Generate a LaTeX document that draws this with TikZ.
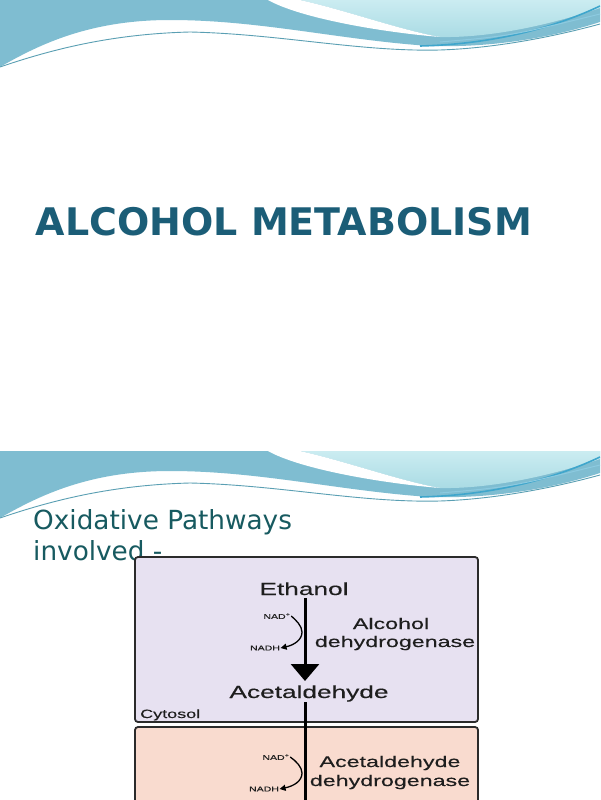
\documentclass[tikz,border=0pt]{standalone}
\usepackage{fontspec}
\usetikzlibrary{arrows.meta}
\newfontfamily\titlefont{DejaVu Sans}
\newfontfamily\diagfont[FakeStretch=1.5,FakeBold=0.3]{Liberation Sans}
\definecolor{bandblue}{HTML}{7FBDD1}
\definecolor{lightcyan}{HTML}{A9DBE4}
\definecolor{palecyan}{HTML}{CBECF1}
\definecolor{streakblue}{HTML}{3FA6CC}
\definecolor{thinteal}{HTML}{5A9FB3}
\definecolor{titlecol}{HTML}{1B5D77}
\definecolor{subcol}{HTML}{175A60}
\definecolor{cytobox}{HTML}{E7E1F1}
\definecolor{mitobox}{HTML}{F9DBCF}
\definecolor{boxedge}{HTML}{2B2B2B}
\definecolor{diagtext}{HTML}{1E1E1E}
\newcommand{\slidebanner}[1]{%
  \begin{scope}[shift={(0,#1)}]
    \fill[bandblue] (0,0) -- (600,0) -- (600,22) .. controls (560,35) and (500,48) .. (430,46)
      .. controls (340,40) and (260,20) .. (170,20) .. controls (90,20) and (40,44) .. (0,67) -- cycle;
    \shade[top color=palecyan, bottom color=lightcyan] (300,0) -- (600,0) -- (600,8)
      .. controls (550,25) and (490,38) .. (440,37) .. controls (400,30) and (345,10) .. (300,0) -- cycle;
    \fill[white] (268,0) -- (300,0) .. controls (345,10) and (400,30) .. (440,37)
      .. controls (380,32) and (300,18) .. (268,0) -- cycle;
    \draw[streakblue, line width=1.6pt] (420,46) .. controls (500,44) and (560,25) .. (600,6);
    \draw[streakblue!60, line width=1pt] (440,42) .. controls (510,36) .. (600,14);
    \draw[thinteal, line width=0.9pt] (0,67) .. controls (50,50) and (110,34) .. (190,32)
      .. controls (280,34) and (360,52) .. (440,50) .. controls (500,48) and (560,35) .. (600,24);
  \end{scope}}
\tikzset{
  titlestyle/.style={font=\titlefont\bfseries\fontsize{38}{44}\selectfont, text=titlecol, inner sep=0pt},
  substyle/.style={font=\titlefont\fontsize{26.3}{31}\selectfont, text=subcol, inner sep=0pt, anchor=base west},
  compound/.style={font=\diagfont\fontsize{17.5}{20}\selectfont, text=diagtext, anchor=base, inner sep=1pt},
  enzyme/.style={font=\diagfont\fontsize{15.5}{18}\selectfont, text=diagtext, anchor=base, inner sep=0pt},
  cofactor/.style={font=\diagfont\fontsize{7}{8}\selectfont, text=diagtext, inner sep=0.5pt},
  compartment/.style={draw=boxedge, line width=1.8pt, rounded corners=3pt},
  mainflow/.style={line width=3pt, draw=black},
  cofarrow/.style={line width=1.3pt, draw=black, -{Triangle[width=6pt,length=6pt]}}
}
\begin{document}
\begin{tikzpicture}[x=1pt,y=-1pt]
\useasboundingbox (0,0) rectangle (600,800);
\clip (0,0) rectangle (600,800);
\fill[white] (0,0) rectangle (600,800);
% slide 1
\slidebanner{0}
\node[titlestyle] (title) at (284,221.5) {ALCOHOL METABOLISM};
% slide 2
\slidebanner{451}
\node[substyle] (sub1) at (33,529) {Oxidative Pathways};
\node[substyle] (sub2) at (33,560) {involved -};
% compartments
\path[compartment, fill=cytobox] (135,557) rectangle (478,722);
\path[compartment, fill=mitobox] (135,727) rectangle (478,830);
\node[font=\diagfont\fontsize{12}{14}\selectfont, text=diagtext, anchor=base west, inner sep=0pt] (cyto) at (140,718) {Cytosol};
% compounds
\node[compound] (eth) at (304,595) {Ethanol};
\node[compound] (acet) at (309,698) {Acetaldehyde};
\coordinate (ethbot) at (305,598);
\coordinate (tip1) at (305,681);
\coordinate (acetbot) at (305,702);
\coordinate (bot) at (305,800);
\draw[mainflow, -{Triangle[width=28pt,length=17pt]}] (ethbot) -- (tip1);
\draw[mainflow] (acetbot) -- (bot);
% enzymes
\node[enzyme] (adh1) at (391,629) {Alcohol};
\node[enzyme] (adh2) at (395,647) {dehydrogenase};
\node[enzyme] (aldh1) at (390,767) {Acetaldehyde};
\node[enzyme] (aldh2) at (390,786) {dehydrogenase};
% cofactors box 1
\node[cofactor] (nad1) at (277,616) {NAD\textsuperscript{+}};
\node[cofactor] (nadh1) at (265,648) {NADH};
\draw[cofarrow] (nad1.east) .. controls (296,620) and (302,626) .. (302,632)
  .. controls (302,640) and (294,645) .. (nadh1.east);
% cofactors box 2
\node[cofactor] (nad2) at (276,757) {NAD\textsuperscript{+}};
\node[cofactor] (nadh2) at (264,789) {NADH};
\draw[cofarrow] (nad2.east) .. controls (296,761) and (302,767) .. (302,773)
  .. controls (302,781) and (294,786) .. (nadh2.east);
\end{tikzpicture}
\end{document}
